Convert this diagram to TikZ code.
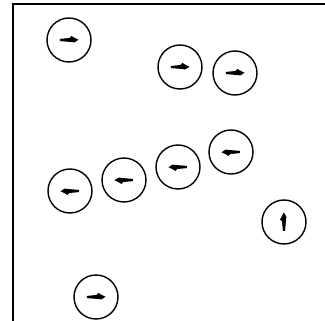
\documentclass[tikz,border=0pt]{standalone}
\begin{document}
\begin{tikzpicture}[x=1pt,y=-1pt,
  agent/.style={circle,draw=black,line width=1.4pt,minimum size=44pt,inner sep=0pt},
  frameline/.style={line width=1.3pt},
  fish/.pic={\fill[black] (-9,-1.1) -- (0.5,-2) -- (2.5,-4) -- (5.5,-2.2) -- (9.5,-0.3) -- (5.5,2.4) -- (2,2) -- (-9,1.1) -- cycle;}]
\useasboundingbox (0,0) rectangle (325,321);
\coordinate (tl) at (13,4);
\coordinate (tr) at (325,4);
\coordinate (bl) at (13,321);
\draw[frameline] (tr) -- (tl) -- (bl);
\node[agent] (a1) at (69,40) {};
\node[agent] (a2) at (180,67) {};
\node[agent] (a3) at (235,73) {};
\node[agent] (a4) at (70,191) {};
\node[agent] (a5) at (124,180) {};
\node[agent] (a6) at (178,167) {};
\node[agent] (a7) at (231,152) {};
\node[agent] (a8) at (284,222) {};
\node[agent] (a9) at (96,297) {};
\pic at (a1.center) {fish};
\pic at (a2.center) {fish};
\pic at (a3.center) {fish};
\pic[rotate=180] at (a4.center) {fish};
\pic[rotate=180] at (a5.center) {fish};
\pic[rotate=180] at (a6.center) {fish};
\pic[rotate=180] at (a7.center) {fish};
\pic[rotate=90] at (a8.center) {fish};
\pic at (a9.center) {fish};
\end{tikzpicture}
\end{document}
